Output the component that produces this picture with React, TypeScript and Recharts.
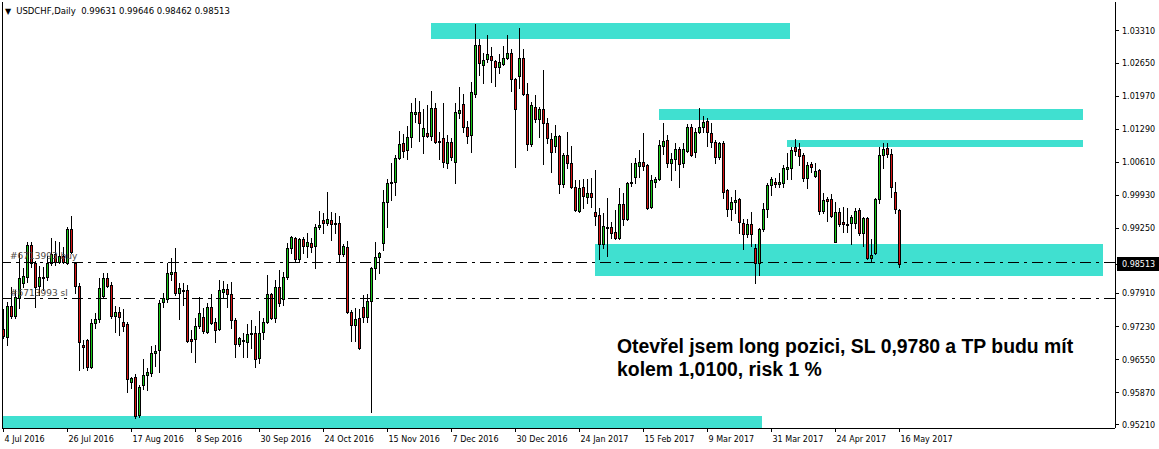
import { ComposedChart, Bar, XAxis, YAxis, ReferenceArea, ReferenceLine } from 'recharts';

// daily USDCHF candles, 4 Jul 2016 .. 17 May 2017
const opens = [
  0.9718, 0.9702, 0.9766, 0.9745, 0.9782, 0.9813, 0.9825, 0.9891, 0.9854, 0.9807,
  0.9823, 0.9825, 0.9854, 0.9872, 0.9856, 0.9868, 0.9854, 0.9924, 0.9854, 0.9807,
  0.9685, 0.9696, 0.9640, 0.9731, 0.9739, 0.9786, 0.9823, 0.9809, 0.9745, 0.9753,
  0.9733, 0.9729, 0.9609, 0.9620, 0.9542, 0.9603, 0.9624, 0.9628, 0.9669, 0.9675,
  0.9774, 0.9780, 0.9831, 0.9835, 0.9792, 0.9799, 0.9799, 0.9698, 0.9698, 0.9725,
  0.9743, 0.9712, 0.9764, 0.9733, 0.9718, 0.9794, 0.9801, 0.9790, 0.9737, 0.9688,
  0.9694, 0.9692, 0.9708, 0.9710, 0.9659, 0.9712, 0.9733, 0.9790, 0.9741, 0.9805,
  0.9780, 0.9825, 0.9885, 0.9905, 0.9862, 0.9903, 0.9889, 0.9895, 0.9889, 0.9928,
  0.9942, 0.9936, 0.9942, 0.9936, 0.9936, 0.9872, 0.9887, 0.9753, 0.9727, 0.9741,
  0.9764, 0.9743, 0.9776, 0.9844, 0.9866, 0.9895, 0.9980, 1.0019, 1.0021, 1.0070,
  1.0101, 1.0086, 1.0113, 1.0160, 1.0164, 1.0115, 1.0121, 1.0115, 1.0173, 1.0105,
  1.0111, 1.0060, 1.0103, 1.0062, 1.0162, 1.0181, 1.0134, 1.0117, 1.0201, 1.0302,
  1.0261, 1.0273, 1.0280, 1.0269, 1.0257, 1.0263, 1.0275, 1.0286, 1.0232, 1.0238,
  1.0275, 1.0201, 1.0099, 1.0175, 1.0150, 1.0171, 1.0142, 1.0109, 1.0095, 1.0115,
  1.0016, 1.0076, 1.0060, 1.0010, 0.9961, 1.0010, 0.9990, 0.9998, 0.9959, 0.9953,
  0.9893, 0.9928, 0.9928, 0.9918, 0.9905, 0.9975, 0.9944, 1.0019, 1.0031, 1.0053,
  1.0062, 1.0056, 0.9969, 1.0021, 1.0027, 1.0095, 1.0107, 1.0060, 1.0068, 1.0088,
  1.0060, 1.0084, 1.0134, 1.0082, 1.0123, 1.0134, 1.0146, 1.0121, 1.0103, 1.0072,
  1.0101, 1.0004, 0.9965, 0.9980, 0.9986, 0.9936, 0.9914, 0.9934, 0.9885, 0.9854,
  0.9924, 0.9965, 1.0014, 1.0021, 1.0017, 1.0019, 1.0047, 1.0049, 1.0092, 1.0088,
  1.0076, 1.0029, 1.0058, 1.0033, 1.0045, 0.9961, 0.9986, 0.9986, 0.9897, 0.9959,
  0.9938, 0.9934, 0.9936, 0.9936, 0.9963, 0.9915, 0.9946, 0.9864, 0.9875, 0.9986,
  1.0076, 1.0090, 1.0078, 1.0000, 0.99631,
];
const highs = [
  0.9760, 0.9774, 0.9805, 0.9799, 0.9875, 0.9844, 0.9897, 0.9897, 0.9858, 0.9848,
  0.9846, 0.9868, 0.9905, 0.9899, 0.9897, 0.9887, 0.9928, 0.9951, 0.9856, 0.9813,
  0.9696, 0.9698, 0.9739, 0.9751, 0.9823, 0.9833, 0.9833, 0.9815, 0.9766, 0.9764,
  0.9760, 0.9733, 0.9620, 0.9626, 0.9603, 0.9657, 0.9638, 0.9683, 0.9685, 0.9778,
  0.9792, 0.9854, 0.9864, 0.9885, 0.9813, 0.9813, 0.9809, 0.9716, 0.9741, 0.9784,
  0.9762, 0.9772, 0.9790, 0.9741, 0.9819, 0.9817, 0.9811, 0.9815, 0.9741, 0.9702,
  0.9710, 0.9729, 0.9737, 0.9725, 0.9755, 0.9741, 0.9829, 0.9792, 0.9819, 0.9840,
  0.9835, 0.9895, 0.9910, 0.9907, 0.9905, 0.9907, 0.9915, 0.9905, 0.9934, 0.9961,
  0.9957, 1.0000, 0.9959, 0.9957, 0.9951, 0.9893, 0.9899, 0.9757, 0.9762, 0.9760,
  0.9788, 0.9790, 0.9846, 0.9897, 0.9877, 1.0004, 1.0027, 1.0060, 1.0076, 1.0125,
  1.0119, 1.0136, 1.0183, 1.0193, 1.0187, 1.0171, 1.0179, 1.0208, 1.0183, 1.0123,
  1.0183, 1.0117, 1.0111, 1.0183, 1.0216, 1.0201, 1.0146, 1.0226, 1.0345, 1.0315,
  1.0286, 1.0323, 1.0298, 1.0271, 1.0284, 1.0300, 1.0323, 1.0294, 1.0234, 1.0337,
  1.0294, 1.0224, 1.0185, 1.0199, 1.0175, 1.0251, 1.0152, 1.0121, 1.0138, 1.0117,
  1.0080, 1.0123, 1.0095, 1.0025, 1.0025, 1.0027, 1.0027, 1.0029, 1.0045, 0.9967,
  0.9957, 0.9988, 0.9938, 0.9963, 1.0008, 0.9998, 1.0021, 1.0060, 1.0070, 1.0086,
  1.0121, 1.0058, 1.0035, 1.0031, 1.0107, 1.0142, 1.0117, 1.0080, 1.0101, 1.0092,
  1.0101, 1.0140, 1.0140, 1.0132, 1.0173, 1.0156, 1.0152, 1.0142, 1.0107, 1.0103,
  1.0105, 1.0006, 0.9990, 1.0004, 0.9988, 0.9944, 0.9944, 0.9959, 0.9893, 0.9926,
  0.9977, 1.0019, 1.0031, 1.0029, 1.0039, 1.0056, 1.0080, 1.0092, 1.0109, 1.0101,
  1.0080, 1.0062, 1.0062, 1.0060, 1.0047, 0.9998, 0.9990, 0.9996, 0.9980, 0.9967,
  0.9969, 0.9967, 0.9953, 0.9967, 0.9967, 0.9948, 0.9948, 0.9903, 0.9988, 1.0092,
  1.0101, 1.0101, 1.0088, 1.0021, 0.99646,
];
const lows = [
  0.9700, 0.9685, 0.9741, 0.9741, 0.9762, 0.9805, 0.9815, 0.9846, 0.9764, 0.9788,
  0.9799, 0.9819, 0.9850, 0.9850, 0.9854, 0.9854, 0.9852, 0.9875, 0.9792, 0.9634,
  0.9638, 0.9634, 0.9638, 0.9720, 0.9733, 0.9784, 0.9805, 0.9741, 0.9712, 0.9706,
  0.9714, 0.9589, 0.9597, 0.9535, 0.9537, 0.9595, 0.9593, 0.9622, 0.9642, 0.9630,
  0.9764, 0.9774, 0.9819, 0.9788, 0.9739, 0.9768, 0.9692, 0.9671, 0.9651, 0.9720,
  0.9710, 0.9710, 0.9729, 0.9692, 0.9716, 0.9784, 0.9764, 0.9720, 0.9661, 0.9683,
  0.9661, 0.9661, 0.9679, 0.9640, 0.9648, 0.9698, 0.9731, 0.9739, 0.9733, 0.9766,
  0.9768, 0.9821, 0.9875, 0.9856, 0.9856, 0.9875, 0.9866, 0.9877, 0.9844, 0.9924,
  0.9915, 0.9932, 0.9901, 0.9915, 0.9856, 0.9868, 0.9751, 0.9694, 0.9694, 0.9677,
  0.9733, 0.9733, 0.9548, 0.9821, 0.9833, 0.9881, 0.9928, 0.9984, 0.9994, 1.0068,
  1.0072, 1.0068, 1.0092, 1.0144, 1.0105, 1.0080, 1.0113, 1.0107, 1.0101, 1.0068,
  1.0051, 1.0049, 1.0066, 1.0019, 1.0152, 1.0123, 1.0101, 1.0082, 1.0195, 1.0241,
  1.0224, 1.0267, 1.0226, 1.0218, 1.0245, 1.0261, 1.0273, 1.0208, 1.0051, 1.0214,
  1.0199, 1.0086, 1.0095, 1.0144, 1.0113, 1.0058, 1.0101, 1.0041, 1.0082, 0.9998,
  1.0010, 1.0049, 1.0008, 0.9961, 0.9959, 0.9967, 0.9977, 0.9969, 0.9932, 0.9862,
  0.9885, 0.9868, 0.9905, 0.9904, 0.9904, 0.9932, 0.9942, 1.0012, 1.0019, 1.0031,
  1.0045, 0.9965, 0.9967, 1.0010, 1.0025, 1.0078, 1.0051, 1.0025, 1.0045, 1.0010,
  1.0051, 1.0082, 1.0074, 1.0072, 1.0121, 1.0123, 1.0095, 1.0092, 1.0060, 1.0068,
  0.9988, 0.9951, 0.9942, 0.9957, 0.9915, 0.9883, 0.9907, 0.9889, 0.9813, 0.9829,
  0.9920, 0.9949, 0.9994, 1.0010, 1.0010, 1.0010, 1.0027, 1.0027, 1.0076, 1.0056,
  1.0023, 1.0008, 1.0041, 1.0031, 0.9955, 0.9957, 0.9940, 0.9949, 0.9897, 0.9930,
  0.9918, 0.9918, 0.9893, 0.9926, 0.9911, 0.9889, 0.9862, 0.9858, 0.9873, 0.9977,
  1.0049, 1.0072, 0.9990, 0.9957, 0.98462,
];
const closes = [
  0.9704, 0.9766, 0.9745, 0.9784, 0.9823, 0.9827, 0.9891, 0.9854, 0.9805, 0.9825,
  0.9825, 0.9854, 0.9872, 0.9856, 0.9868, 0.9856, 0.9924, 0.9877, 0.9807, 0.9692,
  0.9681, 0.9640, 0.9731, 0.9739, 0.9803, 0.9823, 0.9807, 0.9745, 0.9753, 0.9743,
  0.9725, 0.9616, 0.9618, 0.9540, 0.9599, 0.9624, 0.9630, 0.9669, 0.9673, 0.9772,
  0.9782, 0.9833, 0.9835, 0.9792, 0.9803, 0.9797, 0.9694, 0.9694, 0.9725, 0.9751,
  0.9714, 0.9764, 0.9731, 0.9716, 0.9799, 0.9801, 0.9790, 0.9737, 0.9688, 0.9700,
  0.9696, 0.9708, 0.9710, 0.9657, 0.9710, 0.9733, 0.9790, 0.9741, 0.9805, 0.9772,
  0.9825, 0.9885, 0.9907, 0.9862, 0.9903, 0.9889, 0.9897, 0.9887, 0.9928, 0.9932,
  0.9936, 0.9944, 0.9934, 0.9934, 0.9872, 0.9889, 0.9753, 0.9727, 0.9739, 0.9679,
  0.9743, 0.9776, 0.9844, 0.9866, 0.9875, 0.9980, 1.0019, 1.0021, 1.0070, 1.0099,
  1.0084, 1.0113, 1.0164, 1.0164, 1.0142, 1.0132, 1.0115, 1.0173, 1.0103, 1.0103,
  1.0062, 1.0103, 1.0072, 1.0164, 1.0169, 1.0134, 1.0115, 1.0206, 1.0302, 1.0265,
  1.0271, 1.0284, 1.0271, 1.0257, 1.0267, 1.0275, 1.0286, 1.0232, 1.0171, 1.0275,
  1.0201, 1.0099, 1.0179, 1.0150, 1.0171, 1.0142, 1.0111, 1.0082, 1.0115, 1.0016,
  1.0076, 1.0060, 1.0010, 0.9963, 1.0008, 0.9992, 0.9998, 0.9990, 0.9951, 0.9893,
  0.9930, 0.9926, 0.9915, 0.9905, 0.9975, 0.9944, 1.0019, 1.0021, 1.0060, 1.0062,
  1.0053, 0.9967, 1.0025, 1.0027, 1.0097, 1.0105, 1.0060, 1.0068, 1.0088, 1.0058,
  1.0088, 1.0134, 1.0076, 1.0123, 1.0134, 1.0144, 1.0123, 1.0103, 1.0072, 1.0101,
  1.0000, 0.9965, 0.9980, 0.9984, 0.9938, 0.9914, 0.9934, 0.9914, 0.9854, 0.9924,
  0.9965, 1.0014, 1.0027, 1.0017, 1.0021, 1.0049, 1.0051, 1.0086, 1.0084, 1.0074,
  1.0029, 1.0056, 1.0051, 1.0043, 0.9961, 0.9984, 0.9982, 0.9951, 0.9959, 0.9934,
  0.9934, 0.9932, 0.9948, 0.9961, 0.9915, 0.9946, 0.9864, 0.9870, 0.9986, 1.0076,
  1.0088, 1.0078, 1.0010, 0.9965, 0.98513,
];

const dateTickIdx = [0, 16, 32, 48, 64, 80, 96, 112, 128, 144, 160, 176, 192, 208, 224];
const dateLabels = [
  '4 Jul 2016', '26 Jul 2016', '17 Aug 2016', '8 Sep 2016', '30 Sep 2016',
  '24 Oct 2016', '15 Nov 2016', '7 Dec 2016', '30 Dec 2016', '24 Jan 2017',
  '15 Feb 2017', '9 Mar 2017', '31 Mar 2017', '24 Apr 2017', '16 May 2017',
];
const priceTicks = [1.0331, 1.0265, 1.0197, 1.0129, 1.0061, 0.9993, 0.9925, 0.9791, 0.9723, 0.9655, 0.9587, 0.9521];
const lastPrice = 0.98513;
const buyPrice = 0.98554;
const slPrice = 0.9781;
const ticket = '#6713993';

// zones drawn by hand: bar index range and price range
const zoneX1 = [106.875, 163.875, 195.875, 147.875, -0.375];
const zoneX2 = [196.625, 269.875, 269.875, 274.875, 189.625];
const zoneTop = [1.03474, 1.01706, 1.01069, 0.98931, 0.95394];
const zoneBottom = [1.03146, 1.0148, 1.00925, 0.98273, 0.95148];

const X_DOMAIN: [number, number] = [-0.375, 277.875];
const Y_DOMAIN: [number, number] = [0.95148, 1.03906];
const BULL = '#18c818';
const BEAR = '#d81414';
const AXIS_FONT = '"DejaVu Sans", Tahoma, sans-serif';

const data = opens.map((o, i) => ({
  i,
  o,
  h: highs[i],
  l: lows[i],
  c: closes[i],
  range: [lows[i], highs[i]],
}));

function Candle(props: any) {
  const { x, y, width, height, payload } = props;
  if (height == null || !payload) return null;
  const { o, h, l, c } = payload;
  const k = height / (h - l);
  const cx = Math.round(x + width / 2 - 0.5) + 0.5;
  const yOf = (p: number) => y + (h - p) * k;
  const top = Math.round(yOf(Math.max(o, c)));
  const bot = Math.round(yOf(Math.min(o, c)));
  const up = c >= o;
  return (
    <g shapeRendering="crispEdges">
      <line x1={cx} x2={cx} y1={Math.round(y)} y2={Math.round(y + height) + 1} stroke="#000" strokeWidth={1} />
      {bot - top < 2 ? (
        <rect x={cx - 1.5} y={top} width={3} height={Math.max(1, bot - top + 1)} fill="#000" />
      ) : (
        <>
          <rect x={cx - 1.5} y={top} width={3} height={bot - top + 1} fill="#000" />
          <rect x={cx - 0.5} y={top + 1} width={1} height={bot - top - 1} fill={up ? BULL : BEAR} />
        </>
      )}
    </g>
  );
}

function PriceTick(props: any) {
  const { x, y, payload } = props;
  const v = payload.value;
  if (v === lastPrice) {
    return (
      <g>
        <rect x={x - 4} y={y - 7} width={42} height={14} fill="#000" />
        <text x={x + 1} y={y} dy="0.35em" fill="#fff" fontSize={8} fontFamily={AXIS_FONT}>
          {v.toFixed(5)}
        </text>
      </g>
    );
  }
  return (
    <text x={x + 1} y={y} dy="0.35em" fill="#000" fontSize={8} fontFamily={AXIS_FONT}>
      {v.toFixed(5)}
    </text>
  );
}

function DateTick(props: any) {
  const { x, y, payload } = props;
  const idx = dateTickIdx.indexOf(payload.value);
  return (
    <text x={x + 1} y={y + 8} fill="#000" fontSize={8} fontFamily={AXIS_FONT} textAnchor="start">
      {dateLabels[idx] ?? ''}
    </text>
  );
}

function LineTag(props: any) {
  const { viewBox, text } = props;
  if (!viewBox) return null;
  return (
    <text x={viewBox.x + 8} y={viewBox.y - 3} fill="#4f4a44" fontSize={9} fontFamily={AXIS_FONT}>
      {text}
    </text>
  );
}

export default function App() {
  return (
    <div
      style={{
        position: 'absolute',
        left: 0,
        top: 0,
        width: 1159,
        height: 449,
        background: '#fff',
        overflow: 'hidden',
      }}
    >
      <ComposedChart
        width={1159}
        height={449}
        data={data}
        margin={{ top: 2, right: 0, left: 2, bottom: 0 }}
        style={{ shapeRendering: 'crispEdges' }}
      >
        <XAxis
          dataKey="i"
          type="number"
          domain={X_DOMAIN}
          allowDataOverflow
          ticks={dateTickIdx}
          interval={0}
          height={21}
          tickSize={4}
          tick={<DateTick />}
          axisLine={{ stroke: '#000' }}
          tickLine={{ stroke: '#000' }}
        />
        <YAxis
          orientation="right"
          type="number"
          domain={Y_DOMAIN}
          allowDataOverflow
          ticks={[...priceTicks, lastPrice]}
          interval={0}
          width={44}
          tickSize={4}
          tick={<PriceTick />}
          axisLine={{ stroke: '#000' }}
          tickLine={{ stroke: '#000' }}
        />
        {zoneX1.map((x1, k) => (
          <ReferenceArea
            key={k}
            x1={x1}
            x2={zoneX2[k]}
            y1={zoneBottom[k]}
            y2={zoneTop[k]}
            fill="#40e0d0"
            fillOpacity={1}
            stroke="none"
            ifOverflow="visible"
          />
        ))}
        <ReferenceLine
          y={buyPrice}
          stroke="#000"
          strokeDasharray="11 5 3 5"
          label={<LineTag text={`${ticket} buy`} />}
        />
        <ReferenceLine
          y={slPrice}
          stroke="#000"
          strokeDasharray="11 5 3 5"
          label={<LineTag text={`${ticket} sl`} />}
        />
        <ReferenceLine x={X_DOMAIN[0]} stroke="#000" ifOverflow="visible" />
        <Bar dataKey="range" barSize={3} shape={<Candle />} isAnimationActive={false} />
      </ComposedChart>

      <div
        style={{
          position: 'absolute',
          left: 5,
          top: 5,
          fontFamily: AXIS_FONT,
          fontSize: 8.5,
          lineHeight: '12px',
          color: '#000',
          whiteSpace: 'pre',
        }}
      >
        <span style={{ fontSize: 8, marginRight: 5 }}>▼</span>
        USDCHF,Daily  0.99631 0.99646 0.98462 0.98513
      </div>

      <div
        style={{
          position: 'absolute',
          left: 617,
          top: 335,
          fontFamily: '"Liberation Sans", Arial, sans-serif',
          fontWeight: 'bold',
          fontSize: 19.4,
          lineHeight: '23px',
          color: '#000',
          whiteSpace: 'pre',
        }}
      >
        {'Otevřel jsem long pozici, SL 0,9780 a TP budu mít\nkolem 1,0100, risk 1 %'}
      </div>
    </div>
  );
}
